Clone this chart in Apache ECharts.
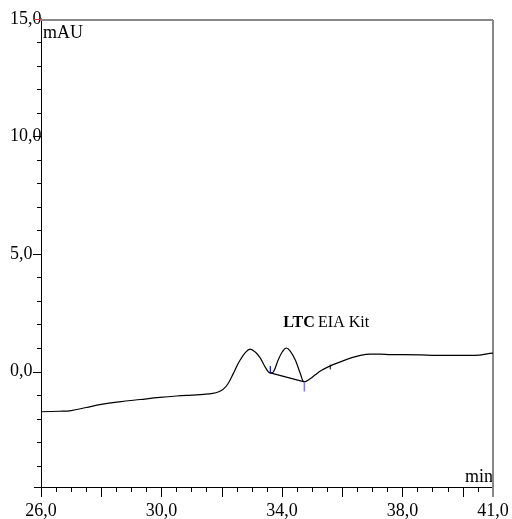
<!DOCTYPE html>
<html>
<head>
<meta charset="utf-8">
<script src="https://cdn.jsdelivr.net/npm/echarts@6/dist/echarts.min.js"></script>
<style>html,body{margin:0;padding:0;background:#fff}#c{width:512px;height:519px}</style>
</head>
<body>
<div id="c"></div>
<script>
// ---- data ----
const times = [26.0, 26.6, 27.0, 27.5, 28.0, 28.6, 29.3, 29.95, 30.5, 31.0, 31.4, 31.7, 31.9, 32.05, 32.2, 32.38, 32.5, 32.61, 32.78, 32.94, 33.11, 33.28, 33.44, 33.61, 33.71, 33.87, 34.01, 34.14, 34.27, 34.44, 34.6, 34.74, 34.94, 35.1, 35.3, 35.6, 35.93, 36.27, 36.6, 36.93, 37.26, 37.6, 38.0, 38.6, 39.1, 39.6, 40.2, 40.55, 40.8, 41.0];
const signal = [-1.70, -1.68, -1.65, -1.52, -1.39, -1.28, -1.18, -1.09, -1.03, -0.99, -0.96, -0.92, -0.85, -0.74, -0.52, -0.08, 0.24, 0.50, 0.81, 0.96, 0.84, 0.58, 0.20, -0.05, -0.01, 0.50, 0.85, 1.01, 0.88, 0.50, -0.05, -0.43, -0.29, -0.13, 0.05, 0.25, 0.42, 0.58, 0.70, 0.75, 0.75, 0.73, 0.73, 0.72, 0.70, 0.70, 0.70, 0.71, 0.76, 0.79];
// peak integration baseline (start, end)
const baseT = [33.61, 34.74];
const baseV = [-0.05, -0.43];
// peak delimiter markers
const markT1 = [33.61, 33.61];
const markV1 = [0.25, -0.05];
const markT2 = [34.74, 34.74];
const markV2 = [-0.43, -0.84];
const markT3 = [35.6, 35.6];
const markV3 = [0.30, 0.10];
// annotation
const annotT = [34.04];
const annotV = [2.1];
// axes
const xMin = 26, xMax = 41;
const yMin = -4.9, yMax = 15;
const yMajorTicks = [0, 5, 10, 15];
const yMinorTicks = [-4, -3, -2, -1, 1, 2, 3, 4, 6, 7, 8, 9, 11, 12, 13, 14];
const xLongTicks = [26, 28, 30, 32, 34, 36, 38, 40];
const xLabelTicks = [26, 30, 34, 38, 41];
const xShortTicks = [26.5, 27, 27.5, 28.5, 29, 29.5, 30.5, 31, 31.5, 32.5, 33, 33.5, 34.5, 35, 35.5, 36.5, 37, 37.5, 38.5, 39, 39.5, 40.5];

const fmt = v => v.toFixed(1).replace('.', ',');
const pair = (a, b) => a.map((t, i) => [t, b[i]]);
const FONT = 'Liberation Serif';

const chart = echarts.init(document.getElementById('c'), null, {renderer: 'canvas'});
chart.setOption({
  animation: false,
  backgroundColor: '#fff',
  grid: {left: 41, right: 19, top: 19, bottom: 32, outerBoundsMode: 'none', containLabel: false},
  xAxis: [{
    type: 'value', min: xMin, max: xMax, position: 'bottom',
    axisLine: {show: true, onZero: false, lineStyle: {color: '#000', width: 1}},
    axisTick: {show: true, length: 10, customValues: xLongTicks, lineStyle: {color: '#000'}},
    axisLabel: {show: true, customValues: xLabelTicks, formatter: fmt, margin: 15,
      fontFamily: FONT, fontSize: 18, color: '#000'},
    splitLine: {show: false}
  }, {
    type: 'value', min: xMin, max: xMax, position: 'bottom',
    axisLine: {show: false, onZero: false},
    axisTick: {show: true, length: 5, customValues: xShortTicks, lineStyle: {color: '#000'}},
    axisLabel: {show: false},
    splitLine: {show: false}
  }],
  yAxis: [{
    type: 'value', min: yMin, max: yMax, position: 'left',
    axisLine: {show: true, onZero: false, lineStyle: {color: '#000', width: 1}},
    axisTick: {show: true, length: 8, customValues: yMajorTicks, lineStyle: {color: '#000'}},
    axisLabel: {show: true, customValues: yMajorTicks, formatter: fmt, align: 'left', margin: 31,
      fontFamily: FONT, fontSize: 18, color: '#000'},
    splitLine: {show: false}
  }, {
    type: 'value', min: yMin, max: yMax, position: 'left',
    axisLine: {show: false, onZero: false},
    axisTick: {show: true, length: 4, customValues: yMinorTicks, lineStyle: {color: '#000'}},
    axisLabel: {show: false},
    splitLine: {show: false}
  }],
  graphic: [
    {type: 'line', shape: {x1: 41, y1: 20, x2: 493, y2: 20}, style: {stroke: '#888', lineWidth: 2}, z: 1},
    {type: 'line', shape: {x1: 493, y1: 20, x2: 493, y2: 497}, style: {stroke: '#888', lineWidth: 2}, z: 1},
    {type: 'line', shape: {x1: 34, y1: 487.5, x2: 41, y2: 487.5}, style: {stroke: '#000', lineWidth: 1}, z: 1},
    {type: 'line', shape: {x1: 33, y1: 19.5, x2: 41, y2: 19.5}, style: {stroke: '#e03030', lineWidth: 1}, z: 10},
    {type: 'text', left: 43, top: 24, style: {text: 'mAU', font: '18px "Liberation Serif"', fill: '#000'}},
    {type: 'text', right: 19, top: 468, style: {text: 'min', font: '18px "Liberation Serif"', fill: '#000'}}
  ],
  series: [
    {type: 'line', data: pair(times, signal), smooth: 0.4, showSymbol: false, silent: true,
      lineStyle: {color: '#000', width: 1.2}, z: 5},
    {type: 'line', data: pair(baseT, baseV), showSymbol: false, silent: true,
      lineStyle: {color: '#000', width: 1.2}, z: 5},
    {type: 'line', data: pair(markT1, markV1), showSymbol: false, silent: true,
      lineStyle: {color: '#0000ff', width: 1.2}, z: 6},
    {type: 'line', data: pair(markT2, markV2), showSymbol: false, silent: true,
      lineStyle: {color: '#7878ff', width: 1.5}, z: 6},
    {type: 'line', data: pair(markT3, markV3), showSymbol: false, silent: true,
      lineStyle: {color: '#000', width: 1}, z: 6},
    {type: 'scatter', data: pair(annotT, annotV), symbolSize: 0, silent: true,
      itemStyle: {color: '#000', opacity: 1},
      label: {show: true, position: 'right', distance: 0, color: '#000', opacity: 1,
        textBorderWidth: 0,
        formatter: '{b|LTC} {r|EIA Kit}',
        rich: {
          b: {fontFamily: FONT, fontSize: 16, fontWeight: 'bold', color: '#000'},
          r: {fontFamily: FONT, fontSize: 16, color: '#000'}
        }}}
  ]
});
</script>
</body>
</html>
